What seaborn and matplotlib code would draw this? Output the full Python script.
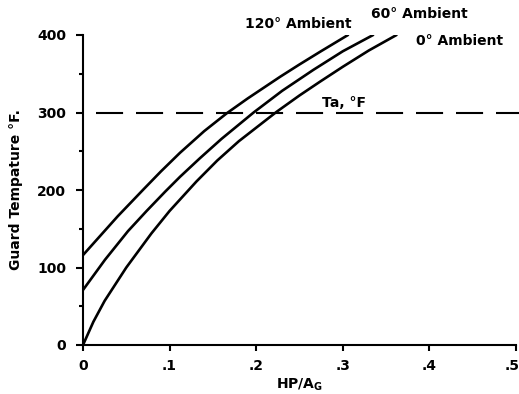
import matplotlib
matplotlib.use("Agg")
import matplotlib.pyplot as plt
import matplotlib.transforms as mtransforms
import seaborn as sns
import pandas as pd

# ---- data ----
x_120 = [0, 0.02, 0.04, 0.07, 0.09, 0.112, 0.14, 0.166, 0.19, 0.2275, 0.25, 0.274, 0.306]
y_120 = [116, 141, 166, 201, 224, 248, 276, 299, 318, 346, 362, 378.5, 400]

x_60 = [0, 0.0254, 0.052, 0.0735, 0.095, 0.112, 0.135, 0.16, 0.197, 0.23, 0.266, 0.30, 0.335]
y_60 = [71, 110, 147, 173, 198, 217, 241, 266, 300, 328, 355, 379, 400]

x_0 = [0, 0.012, 0.025, 0.05, 0.079, 0.1, 0.131, 0.155, 0.18, 0.2237, 0.25, 0.274, 0.30, 0.33, 0.362]
y_0 = [0, 30, 57, 100, 144, 173, 211, 238, 263, 301, 322, 340, 359, 380, 400]

series_names = ["120° Ambient", "60° Ambient", "0° Ambient"]
ref_temp = 300
ref_label = "Ta, °F"

x_ticks = [0, 0.1, 0.2, 0.3, 0.4, 0.5]
x_ticklabels = ["0", ".1", ".2", ".3", ".4", ".5"]
y_ticks = [0, 100, 200, 300, 400]
y_minor = [50, 150, 250, 350]

# ---- build a long table ----
frames = []
for name, xs, ys in zip(series_names, [x_120, x_60, x_0], [y_120, y_60, y_0]):
    frames.append(pd.DataFrame({"hp": xs, "temp": ys, "ambient": name}))
df = pd.concat(frames, ignore_index=True)

sns.set_theme(style="ticks")
plt.rcParams["font.family"] = ["DejaVu Sans"]
plt.rcParams["font.weight"] = "bold"
plt.rcParams["text.color"] = "black"
plt.rcParams["axes.labelcolor"] = "black"
plt.rcParams["xtick.color"] = "black"
plt.rcParams["ytick.color"] = "black"

fig = plt.figure(figsize=(5.19, 3.94), dpi=100)
ax = fig.add_axes([83 / 519, 1 - 345 / 394, (516 - 83) / 519, (345 - 35) / 394])

sns.lineplot(data=df, x="hp", y="temp", hue="ambient", palette=["black"] * 3,
             estimator=None, sort=False, legend=False, linewidth=1.9, ax=ax)

ax.hlines(ref_temp, 0.015, 0.503, colors="black", linewidth=1.5,
          linestyles=[(0, (13, 6.2))], clip_on=False)

ax.set_xlim(0, 0.5)
ax.set_ylim(0, 400)
ax.set_xticks(x_ticks)
ax.set_xticklabels(x_ticklabels)
ax.set_yticks(y_ticks)
ax.set_yticks(y_minor, minor=True)

for s in ["top", "right"]:
    ax.spines[s].set_visible(False)
for s in ["left", "bottom"]:
    ax.spines[s].set_linewidth(1.5)
    ax.spines[s].set_color("black")

ax.tick_params(axis="y", which="major", length=5, width=1.5, pad=7,
               labelsize=10, colors="black")
ax.tick_params(axis="y", which="minor", length=3, width=1.5, colors="black")
ax.tick_params(axis="x", which="major", length=4, width=1.5, pad=6,
               labelsize=10, colors="black")
for lab in ax.get_xticklabels() + ax.get_yticklabels():
    lab.set_fontweight("bold")
last = ax.get_xticklabels()[-1]
last.set_transform(last.get_transform() +
                   mtransforms.ScaledTranslation(-4 / 100, 0, fig.dpi_scale_trans))

ax.set_xlabel(r"HP/A$_\mathbf{G}$", fontsize=10, fontweight="bold", labelpad=2.5)
ax.set_ylabel("Guard Tempature °F.", fontsize=10, fontweight="bold", labelpad=10)

label_pos = {"120° Ambient": (0.187, 409), "60° Ambient": (0.333, 422),
             "0° Ambient": (0.384, 387)}
for name in series_names:
    lx, ly = label_pos[name]
    ax.text(lx, ly, name, fontsize=10, fontweight="bold", ha="left",
            va="baseline", clip_on=False, color="black")
ax.text(0.276, 307, ref_label, fontsize=10, fontweight="bold", ha="left",
        va="baseline", color="black")

fig.savefig("out.png", dpi=100)
